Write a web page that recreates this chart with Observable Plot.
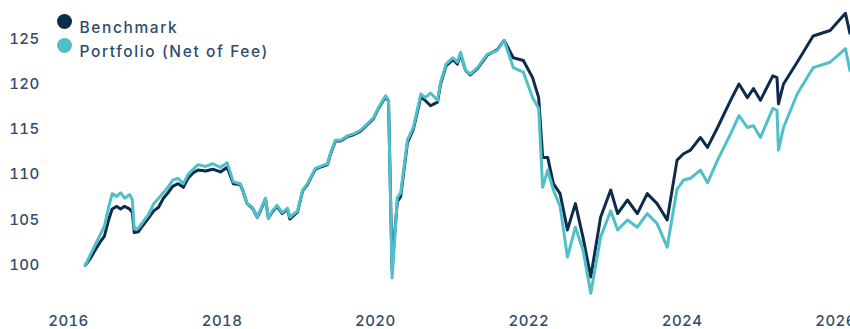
<!DOCTYPE html>
<html><head><meta charset="utf-8">
<script src="https://cdn.jsdelivr.net/npm/d3@7"></script>
<script src="https://cdn.jsdelivr.net/npm/@observablehq/plot@0.6"></script>
<style>
body{margin:0;background:#fff}
</style>
</head><body><div id="chart"></div>
<script>
const dates = [
"2016-03-21","2016-04-15","2016-05-08","2016-06-01","2016-06-20","2016-07-10","2016-07-27","2016-08-18","2016-09-05","2016-09-24",
"2016-10-19","2016-10-31","2016-11-09","2016-11-29","2016-12-24","2017-01-16","2017-02-10","2017-03-05","2017-03-28","2017-04-19",
"2017-05-11","2017-06-06","2017-07-01","2017-07-23","2017-08-17","2017-09-09","2017-10-15","2017-11-18","2017-12-24","2018-01-26",
"2018-02-24","2018-03-29","2018-04-11","2018-04-30","2018-05-26","2018-06-18","2018-07-01","2018-07-27","2018-08-10","2018-08-29",
"2018-09-20","2018-10-15","2018-11-09","2018-11-20","2018-12-27","2019-01-20","2019-02-12","2019-03-08","2019-03-22","2019-04-23",
"2019-05-18","2019-06-01","2019-06-25","2019-07-20","2019-08-22","2019-09-20","2019-10-23","2019-11-24","2019-12-24","2020-01-16",
"2020-02-19","2020-03-04","2020-03-21","2020-04-04","2020-04-15","2020-05-01","2020-06-02","2020-06-30","2020-08-05","2020-08-25",
"2020-09-20","2020-10-23","2020-11-07","2020-12-03","2021-01-05","2021-01-26","2021-02-10","2021-03-06","2021-03-28","2021-05-01",
"2021-06-18","2021-08-04","2021-09-06","2021-10-19","2021-12-06","2022-01-19","2022-02-17","2022-03-08","2022-04-01","2022-04-28",
"2022-05-30","2022-07-04","2022-08-11","2022-09-16","2022-10-23","2022-12-09","2023-01-26","2023-02-28","2023-04-16","2023-06-02",
"2023-07-19","2023-09-04","2023-10-22","2023-12-08","2024-01-08","2024-02-10","2024-03-28","2024-05-01","2024-06-18","2024-08-19",
"2024-09-28","2024-11-07","2024-12-06","2025-01-08","2025-03-08","2025-03-28","2025-04-04","2025-04-28","2025-07-02","2025-09-16",
"2025-12-06","2026-02-17","2026-03-10"
];
const benchmark = [
100.0,100.8,101.7,102.6,103.2,105.0,106.2,106.5,106.2,106.5,
106.2,105.8,103.6,103.7,104.5,105.2,106.0,106.4,107.4,108.0,
108.7,109.0,108.6,109.6,110.2,110.5,110.4,110.6,110.3,110.8,
109.0,108.9,108.2,106.8,106.3,105.3,105.9,107.3,105.2,105.9,
106.5,105.7,106.2,105.1,105.9,108.2,108.9,110.0,110.6,110.9,
111.1,112.2,113.7,113.7,114.2,114.4,114.8,115.5,116.2,117.3,
118.6,118.1,99.5,104.0,107.0,107.6,113.5,115.0,118.6,118.2,
117.6,118.0,120.0,122.0,122.7,122.2,123.3,121.5,121.0,121.7,
123.2,123.8,124.8,122.9,122.6,120.7,118.5,111.9,111.9,109.0,
107.9,103.9,106.8,103.1,98.7,105.3,108.3,105.7,107.2,105.7,
107.9,106.8,105.0,111.6,112.3,112.7,114.1,113.0,115.2,118.2,
120.0,118.5,119.5,118.2,120.9,120.7,117.8,120.0,122.4,125.3,
125.9,127.8,125.6
];
const portfolio = [
100.0,101.2,102.3,103.4,104.3,106.4,107.9,107.6,108.0,107.4,
107.8,107.2,104.0,104.1,104.9,105.6,106.8,107.4,108.0,108.6,
109.4,109.6,109.0,110.0,110.6,111.1,110.9,111.2,110.8,111.3,
109.2,109.0,108.3,106.8,106.4,105.3,106.0,107.4,105.2,106.0,
106.6,105.8,106.3,105.3,106.0,108.3,109.0,110.1,110.7,111.0,
111.2,112.3,113.8,113.8,114.3,114.5,114.9,115.6,116.3,117.4,
118.7,118.2,98.6,103.5,107.5,108.0,113.8,115.2,118.9,118.5,
119.0,118.2,120.2,122.2,122.9,122.4,123.5,121.5,121.1,121.8,
123.3,123.7,124.8,121.8,121.3,118.5,117.3,108.6,110.5,108.3,
106.5,100.9,104.2,101.7,96.9,103.1,106.0,103.9,105.0,104.2,
105.7,104.6,102.0,108.4,109.4,109.6,110.5,109.1,111.6,114.5,
116.5,115.2,115.4,114.1,117.3,117.1,112.7,115.2,118.9,121.8,
122.4,123.9,121.5
];
const seriesNames = ["Benchmark", "Portfolio (Net of Fee)"];
const yTicks = [100, 105, 110, 115, 120, 125];
const xTickYears = [2016, 2018, 2020, 2022, 2024, 2026];

const colors = ["#0d2c4d", "#4fc0c9"];
const textColor = "#2e4c6d";
const parse = d3.utcParse("%Y-%m-%d");
const rows = dates.map((d, i) => ({date: parse(d), benchmark: benchmark[i], portfolio: portfolio[i]}));

const legendMarks = seriesNames.flatMap((name, i) => [
  Plot.dot([name], {frameAnchor: "top-left", dx: -4, dy: 10 + i * 24, r: 7.5, fill: colors[i], stroke: null}),
  Plot.text([name], {frameAnchor: "top-left", dx: 11, dy: 10 + i * 24, text: d => d, textAnchor: "start", fill: textColor, fontSize: 15.5, fontWeight: 500})
]);

const plot = Plot.plot({
  width: 850, height: 329,
  marginLeft: 68, marginRight: 0, marginTop: 11, marginBottom: 28,
  style: {fontFamily: "Inter, sans-serif", fontSize: "15px", fontWeight: 500, color: textColor, background: "#fff"},
  x: {type: "utc", domain: [new Date(Date.UTC(2016, 0, 1)), new Date(Date.UTC(2026, 2, 13))]},
  y: {domain: [96, 128]},
  marks: [
    Plot.axisY(yTicks, {tickSize: 0, tickPadding: 29, label: null, fill: textColor}),
    Plot.axisX(xTickYears.map(y => new Date(Date.UTC(y, 0, 1))), {tickSize: 0, tickPadding: 14, tickFormat: d3.utcFormat("%Y"), label: null, fill: textColor}),
    Plot.line(rows, {x: "date", y: "benchmark", stroke: colors[0], strokeWidth: 3, clip: true}),
    Plot.line(rows, {x: "date", y: "portfolio", stroke: colors[1], strokeWidth: 3, clip: true}),
    ...legendMarks
  ]
});
d3.select(plot).selectAll("text")
  .filter(function() { return seriesNames.includes(this.textContent); })
  .attr("letter-spacing", "1.6px")
  .style("letter-spacing", "1.6px");
d3.select(plot).selectAll("text")
  .filter(function() { return /^\d+$/.test(this.textContent); })
  .style("letter-spacing", "0.4px");
document.getElementById("chart").append(plot);
</script>
</body></html>
